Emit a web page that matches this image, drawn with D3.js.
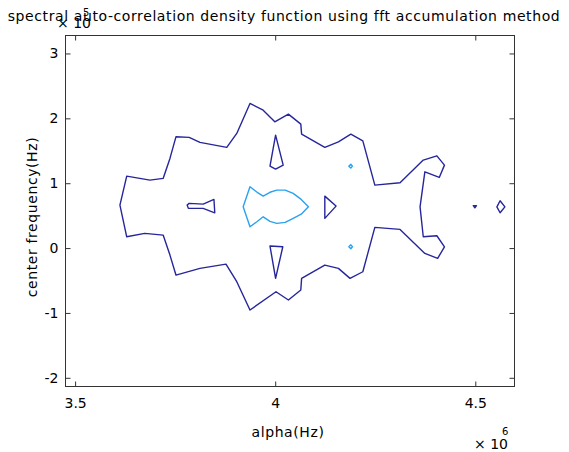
<!DOCTYPE html>
<html>
<head>
<meta charset="utf-8">
<script src="https://cdn.jsdelivr.net/npm/d3@7"></script>
<style>
  body { margin: 0; background: #fff; }
  text { font-family: "DejaVu Sans", sans-serif; fill: #000; }
</style>
</head>
<body>
<svg id="chart" width="569" height="452"></svg>
<script>
// axis values are in units of 1e6 Hz (alpha) and 1e5 Hz (center frequency)
const xTicks = [3.5, 4, 4.5];
const yTicks = [-2, -1, 0, 1, 2, 3];
const xDomain = [3.476, 4.598];
const yDomain = [-2.134, 3.277];

// contour lines, [alpha, freq]
const outerLevel = [
  [3.937, 2.230], [3.970, 2.126], [3.999, 1.946], [4.033, 2.065], [4.064, 1.911],
  [4.066, 1.757], [4.124, 1.552], [4.158, 1.638], [4.189, 1.757], [4.219, 1.653],
  [4.249, 0.971], [4.312, 1.006], [4.370, 1.356], [4.404, 1.422], [4.423, 1.279],
  [4.410, 1.089], [4.374, 1.176], [4.362, 0.636], [4.370, 0.174], [4.404, 0.190],
  [4.423, 0.020], [4.406, -0.159], [4.374, -0.082], [4.312, 0.288], [4.249, 0.319],
  [4.219, -0.365], [4.187, -0.467], [4.158, -0.313], [4.124, -0.262], [4.066, -0.467],
  [4.064, -0.647], [4.033, -0.801], [4.002, -0.673], [3.937, -0.955], [3.904, -0.518],
  [3.877, -0.247], [3.812, -0.313], [3.752, -0.416], [3.737, -0.108], [3.720, 0.200],
  [3.674, 0.226], [3.629, 0.174], [3.612, 0.663], [3.629, 1.109], [3.687, 1.048],
  [3.720, 1.074], [3.737, 1.382], [3.752, 1.715], [3.785, 1.706], [3.812, 1.629],
  [3.879, 1.552], [3.904, 1.767]
];
const keyShape = [
  [3.780, 0.663], [3.785, 0.689], [3.820, 0.678], [3.847, 0.750],
  [3.849, 0.544], [3.820, 0.612], [3.783, 0.612]
];
const upperTri = [[4.001, 1.741], [4.020, 1.279], [4.001, 1.217], [3.987, 1.263]];
const lowerTri = [[3.987, 0.031], [4.019, 0.020], [4.001, -0.467]];
const rightTri = [[4.124, 0.801], [4.152, 0.647], [4.124, 0.458]];
const dotTri = [[4.495, 0.655], [4.503, 0.655], [4.499, 0.620]];
const rightDiamond = [[4.562, 0.729], [4.574, 0.636], [4.562, 0.544], [4.554, 0.636]];

const fishLevel = [
  [3.920, 0.636], [3.937, 0.945], [3.955, 0.860], [3.970, 0.801], [3.987, 0.860],
  [4.004, 0.894], [4.025, 0.894], [4.045, 0.843], [4.065, 0.750], [4.083, 0.636],
  [4.065, 0.522], [4.045, 0.458], [4.025, 0.396], [4.004, 0.381], [3.987, 0.412],
  [3.970, 0.482], [3.955, 0.410], [3.937, 0.328]
];
const smallUpper = [[4.189, 1.293], [4.193, 1.263], [4.189, 1.233], [4.184, 1.263]];
const smallLower = [[4.189, 0.050], [4.193, 0.020], [4.189, -0.010], [4.184, 0.020]];

const darkLines = [outerLevel, keyShape, upperTri, lowerTri, rightTri, dotTri, rightDiamond];
const lightLines = [fishLevel, smallUpper, smallLower];

const svg = d3.select('#chart');
const plotLeft = 65.5, plotRight = 514.5, plotTop = 35.5, plotBottom = 386.5;

const x = d3.scaleLinear().domain(xDomain).range([plotLeft, plotRight]);
const y = d3.scaleLinear().domain(yDomain).range([plotBottom, plotTop]);

const line = d3.line()
  .x(d => x(d[0]))
  .y(d => y(d[1]))
  .curve(d3.curveLinearClosed);

// contours
svg.append('g').selectAll('path')
  .data(darkLines)
  .enter().append('path')
  .attr('d', line)
  .attr('fill', 'none')
  .attr('stroke', '#26269c')
  .attr('stroke-width', 1.4)
  .attr('stroke-linejoin', 'round');

svg.append('g').selectAll('path')
  .data(lightLines)
  .enter().append('path')
  .attr('d', line)
  .attr('fill', 'none')
  .attr('stroke', '#2aa2f2')
  .attr('stroke-width', 1.4)
  .attr('stroke-linejoin', 'round');

// axes, ticks inward on all four sides
const tickLen = 5;
function styleAxis(g) {
  g.select('.domain').remove();
  g.selectAll('line').attr('stroke', '#333');
  g.selectAll('text').attr('font-size', 14).attr('fill', '#000');
}

svg.append('g')
  .attr('transform', `translate(0,${plotBottom})`)
  .call(d3.axisBottom(x).tickValues(xTicks).tickSize(-tickLen).tickPadding(12).tickFormat(d => String(d)))
  .call(styleAxis);

svg.append('g')
  .attr('transform', `translate(0,${plotTop})`)
  .call(d3.axisTop(x).tickValues(xTicks).tickSize(-tickLen).tickFormat(''))
  .call(styleAxis);

svg.append('g')
  .attr('transform', `translate(${plotLeft},0)`)
  .call(d3.axisLeft(y).tickValues(yTicks).tickSize(-tickLen).tickPadding(7).tickFormat(d => String(d)))
  .call(styleAxis);

svg.append('g')
  .attr('transform', `translate(${plotRight},0)`)
  .call(d3.axisRight(y).tickValues(yTicks).tickSize(-tickLen).tickFormat(''))
  .call(styleAxis);

svg.append('rect')
  .attr('x', plotLeft).attr('y', plotTop)
  .attr('width', plotRight - plotLeft).attr('height', plotBottom - plotTop)
  .attr('fill', 'none')
  .attr('stroke', '#333')
  .attr('stroke-width', 1);

// title and labels
svg.append('text')
  .attr('x', 284).attr('y', 21)
  .attr('text-anchor', 'middle')
  .attr('font-size', 14)
  .attr('letter-spacing', 0.6)
  .text('spectral auto-correlation density function using fft accumulation method');

svg.append('text')
  .attr('x', 57).attr('y', 28)
  .attr('font-size', 14)
  .text('\u00d7 10');
svg.append('text')
  .attr('x', 83).attr('y', 16)
  .attr('font-size', 10)
  .text('5');

svg.append('text')
  .attr('x', 288).attr('y', 437)
  .attr('text-anchor', 'middle')
  .attr('font-size', 14)
  .attr('letter-spacing', 0.6)
  .text('alpha(Hz)');

svg.append('text')
  .attr('transform', 'translate(37,217) rotate(-90)')
  .attr('text-anchor', 'middle')
  .attr('font-size', 14)
  .attr('letter-spacing', 0.6)
  .text('center frequency(Hz)');

svg.append('text')
  .attr('x', 474).attr('y', 449)
  .attr('font-size', 14)
  .text('\u00d7 10');
svg.append('text')
  .attr('x', 502).attr('y', 435)
  .attr('font-size', 10)
  .text('6');
</script>
</body>
</html>
